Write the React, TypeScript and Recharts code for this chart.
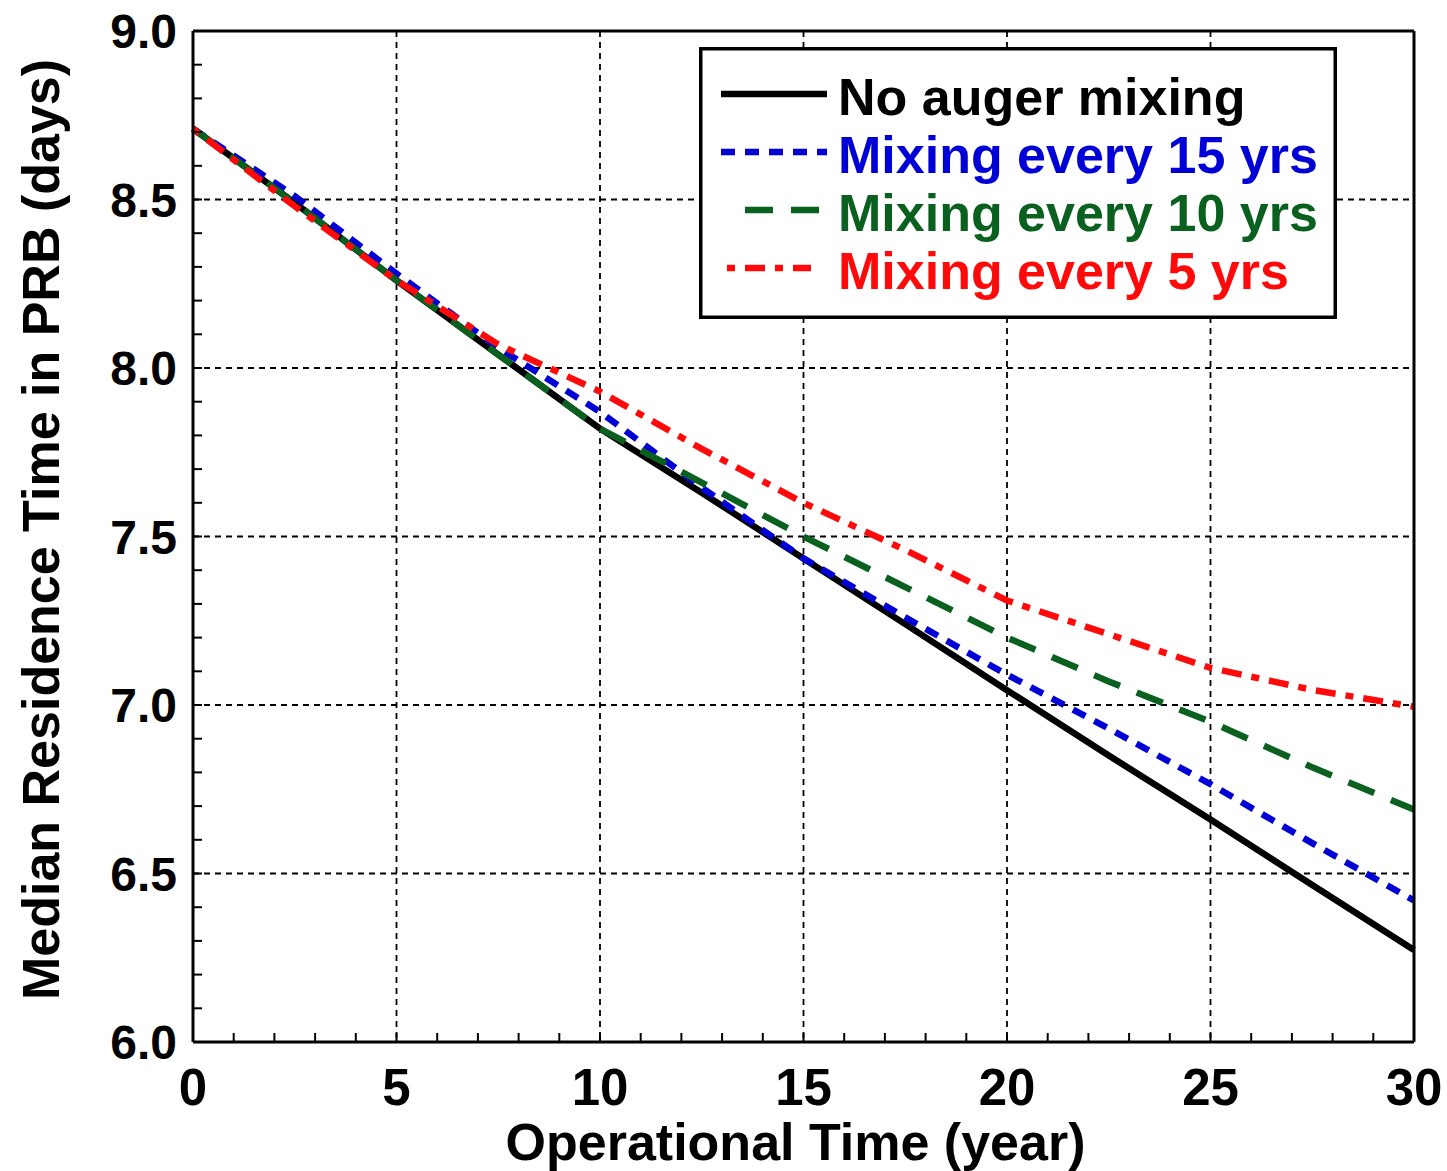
import React from "react";
import { LineChart, Line, XAxis, YAxis, CartesianGrid, Legend, Label } from "recharts";

const FONT = '"Liberation Sans", Arial, Helvetica, sans-serif';

// operational time (years) and median residence time (days) per scenario
const years = [0, 2.5, 5, 7.5, 10, 12.5, 15, 17.5, 20, 22.5, 25, 27.5, 30];
const noMixing = [8.71, 8.49, 8.26, 8.04, 7.82, 7.63, 7.435, 7.24, 7.044, 6.85, 6.66, 6.466, 6.273];
const mixing15 = [8.71, 8.51, 8.28, 8.06, 7.87, 7.645, 7.435, 7.26, 7.09, 6.93, 6.765, 6.59, 6.42];
const mixing10 = [8.71, 8.49, 8.26, 8.04, 7.82, 7.66, 7.5, 7.35, 7.2, 7.07, 6.95, 6.815, 6.69];
const mixing5 = [8.71, 8.48, 8.26, 8.07, 7.93, 7.76, 7.6, 7.46, 7.31, 7.21, 7.11, 7.045, 6.995];

const xMajorTicks = [0, 5, 10, 15, 20, 25, 30];
const xMinorTicks = [
  0, 1, 2, 3, 4, 5, 6, 7, 8, 9, 10, 11, 12, 13, 14, 15, 16, 17, 18, 19, 20, 21, 22, 23, 24, 25, 26,
  27, 28, 29, 30,
];
const yMajorTicks = [6.0, 6.5, 7.0, 7.5, 8.0, 8.5, 9.0];
const yMinorTicks = [
  6.0, 6.1, 6.2, 6.3, 6.4, 6.5, 6.6, 6.7, 6.8, 6.9, 7.0, 7.1, 7.2, 7.3, 7.4, 7.5, 7.6, 7.7, 7.8,
  7.9, 8.0, 8.1, 8.2, 8.3, 8.4, 8.5, 8.6, 8.7, 8.8, 8.9, 9.0,
];

const series = [
  { key: "none", name: "No auger mixing", color: "#000000", dash: undefined, values: noMixing },
  { key: "m15", name: "Mixing every 15 yrs", color: "#0000D6", dash: "14 10", values: mixing15 },
  { key: "m10", name: "Mixing every 10 yrs", color: "#0A601E", dash: "28 18", values: mixing10 },
  { key: "m5", name: "Mixing every 5 yrs", color: "#FF0A0A", dash: "8 10 20 10", values: mixing5 },
];

const data = years.map((year, i) => {
  const row: Record<string, number> = { year };
  series.forEach((s) => {
    row[s.key] = s.values[i];
  });
  return row;
});

const isMajor = (list: number[], v: number) => list.some((t) => Math.abs(t - v) < 1e-6);

// sample line spans inside the legend box
const sampleSpans: Record<string, [number, number]> = {
  none: [22, 128],
  m15: [22, 128],
  m10: [46, 122],
  m5: [28, 112],
};

function LegendBox(props: any) {
  const payload: any[] = props.payload || [];
  // keep the series order rather than the sorted payload order
  return (
    <svg width={638} height={272} style={{ display: "block" }}>
      <rect x={1.75} y={1.75} width={634.5} height={268.5} fill="#fff" stroke="#000" strokeWidth={3.5} />
      {series.map((s, i) => {
        const entry = payload.find((p) => p.dataKey === s.key);
        const color = entry?.color ?? s.color;
        const label = entry?.value ?? s.name;
        const cy = 47 + i * 58;
        const [x1, x2] = sampleSpans[s.key];
        return (
          <g key={s.key}>
            <line
              x1={x1}
              x2={x2}
              y1={cy}
              y2={cy}
              stroke={color}
              strokeWidth={6.5}
              strokeDasharray={s.dash}
            />
            <text x={139} y={cy + 21} fill={color} fontFamily={FONT} fontWeight="bold" fontSize={52}>
              {label}
            </text>
          </g>
        );
      })}
    </svg>
  );
}

function XTitle(props: any) {
  const vb = props.viewBox;
  return (
    <text
      x={vb.x + vb.width / 2 - 8}
      y={vb.y + 118}
      textAnchor="middle"
      fontFamily={FONT}
      fontWeight="bold"
      fontSize={52}
      fill="#000"
    >
      Operational Time (year)
    </text>
  );
}

function YTitle(props: any) {
  const vb = props.viewBox;
  const x = vb.x - 133;
  const y = vb.y + vb.height / 2 - 7;
  return (
    <text
      x={x}
      y={y}
      transform={`rotate(-90 ${x} ${y})`}
      textAnchor="middle"
      fontFamily={FONT}
      fontWeight="bold"
      fontSize={52}
      fill="#000"
    >
      Median Residence Time in PRB (days)
    </text>
  );
}

export default function App() {
  const axisLine = { stroke: "#000", strokeWidth: 3 };
  const tickLine = { stroke: "#000", strokeWidth: 2 };
  return (
    <div style={{ position: "absolute", left: 0, top: 0, width: 1447, height: 1171, background: "#fff" }}>
      <LineChart width={1447} height={1171} data={data} margin={{ top: 30, right: 32, bottom: 128, left: 192 }}>
        <CartesianGrid
          stroke="#000"
          strokeWidth={1.8}
          strokeDasharray="6 5"
          horizontalValues={yMajorTicks.slice(1, -1)}
          verticalValues={xMajorTicks.slice(1, -1)}
        />
        <XAxis
          dataKey="year"
          type="number"
          domain={[0, 30]}
          ticks={xMinorTicks}
          interval={0}
          height={1}
          axisLine={axisLine}
          tickLine={tickLine}
          tickSize={-9}
          tickMargin={36}
          tickFormatter={(v: number) => (isMajor(xMajorTicks, v) ? String(v) : "")}
          tick={{ fill: "#000", fontSize: 51, fontWeight: "bold", fontFamily: FONT }}
        >
          <Label content={XTitle} />
        </XAxis>
        <XAxis
          xAxisId="top"
          orientation="top"
          type="number"
          domain={[0, 30]}
          allowDataOverflow
          ticks={xMinorTicks}
          interval={0}
          height={1}
          axisLine={axisLine}
          tickLine={tickLine}
          tickSize={-9}
          tick={false}
        />
        <YAxis
          type="number"
          domain={[6, 9]}
          allowDataOverflow
          ticks={yMinorTicks}
          interval={0}
          width={1}
          axisLine={axisLine}
          tickLine={tickLine}
          tickSize={-9}
          tickMargin={25}
          tickFormatter={(v: number) => (isMajor(yMajorTicks, v) ? v.toFixed(1) : "")}
          tick={{ fill: "#000", fontSize: 48, fontWeight: "bold", fontFamily: FONT }}
        >
          <Label content={YTitle} />
        </YAxis>
        <YAxis
          yAxisId="right"
          orientation="right"
          type="number"
          domain={[6, 9]}
          allowDataOverflow
          ticks={yMinorTicks}
          interval={0}
          width={1}
          axisLine={axisLine}
          tickLine={tickLine}
          tickSize={-9}
          tick={false}
        />
        <Legend
          content={LegendBox}
          layout="vertical"
          verticalAlign="middle"
          align="center"
          wrapperStyle={{ left: 699, top: 47, width: 638, height: 272 }}
        />
        {series.map((s) => (
          <Line
            key={s.key}
            dataKey={s.key}
            name={s.name}
            type="linear"
            stroke={s.color}
            strokeWidth={6.5}
            strokeDasharray={s.dash}
            dot={false}
            activeDot={false}
            isAnimationActive={false}
          />
        ))}
      </LineChart>
    </div>
  );
}
